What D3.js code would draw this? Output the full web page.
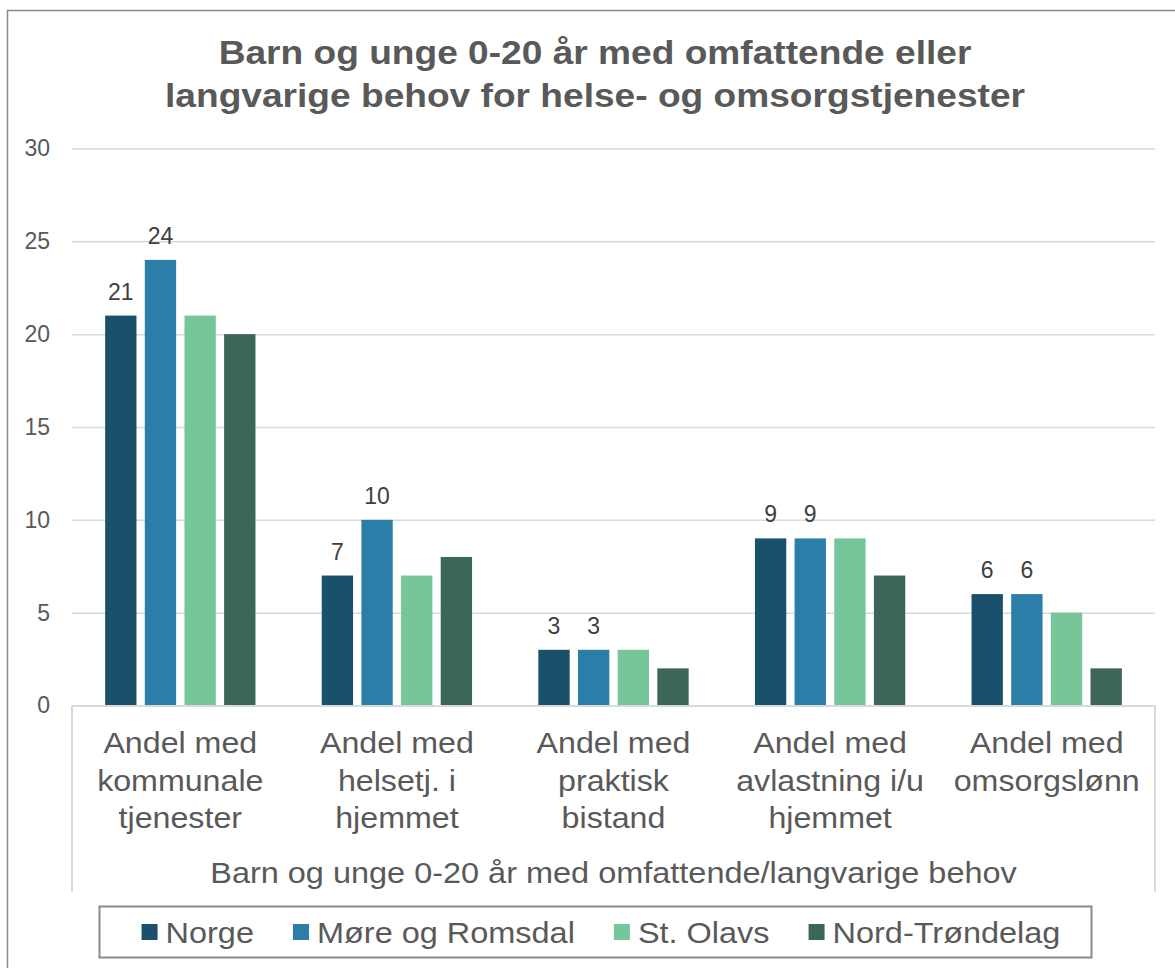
<!DOCTYPE html>
<html>
<head>
<meta charset="utf-8">
<script src="https://cdn.jsdelivr.net/npm/d3@7"></script>
<style>
  body { margin: 0; background: #fff; }
  svg { display: block; font-family: "Liberation Sans", Arial, sans-serif; }
</style>
</head>
<body>
<svg id="chart" width="1175" height="968"></svg>
<script>
// data
const categories = ["kommunale", "helsetj", "praktisk", "avlastning", "omsorgslonn"];
const categoryLines = [
  ["Andel med", "kommunale", "tjenester"],
  ["Andel med", "helsetj. i", "hjemmet"],
  ["Andel med", "praktisk", "bistand"],
  ["Andel med", "avlastning i/u", "hjemmet"],
  ["Andel med", "omsorgslønn"]
];
const seriesNames = ["Norge", "Møre og Romsdal", "St. Olavs", "Nord-Trøndelag"];
const norge = [21, 7, 3, 9, 6];
const moreRomsdal = [24, 10, 3, 9, 6];
const stOlavs = [21, 7, 3, 9, 5];
const nordTrondelag = [20, 8, 2, 7, 2];
const labelled = [true, true, false, false]; // only first two series carry data labels
const yTicks = [0, 5, 10, 15, 20, 25, 30];
const titleLines = ["Barn og unge 0-20 år med omfattende eller", "langvarige behov for helse- og omsorgstjenester"];
const axisTitle = "Barn og unge 0-20 år med omfattende/langvarige behov";

const colors = ["#1b506c", "#2b7ea7", "#76c69a", "#3c6657"];
const seriesValues = [norge, moreRomsdal, stOlavs, nordTrondelag];

// the source font renders a bit wider than Liberation Sans
const stretch = 1.11;

const svg = d3.select("#chart");

// outer frame
svg.append("rect")
  .attr("x", 7.5).attr("y", 10.5)
  .attr("width", 1200).attr("height", 1000)
  .attr("fill", "none").attr("stroke", "#8a8a8a").attr("stroke-width", 1.5);

// title
svg.append("text")
  .attr("x", 0).attr("y", 64)
  .attr("transform", "translate(595,0) scale(1.125,1)")
  .attr("text-anchor", "middle")
  .attr("fill", "#595959")
  .style("font-size", "33px").style("font-weight", "bold")
  .selectAll("tspan").data(titleLines).enter().append("tspan")
  .attr("x", 0).attr("dy", (d, i) => i === 0 ? 0 : 43)
  .text(d => d);

const plotLeft = 72, plotRight = 1155, plotTop = 148.5, plotBottom = 705.5;

const y = d3.scaleLinear().domain([0, 30]).range([plotBottom, plotTop]);
const x0 = d3.scaleBand().domain(categories).range([plotLeft, plotRight]).padding(0);
const x1 = d3.scaleBand().domain(seriesNames)
  .range([x0.bandwidth() * 0.153, x0.bandwidth() * 0.847])
  .paddingInner(0.21).paddingOuter(0);

// gridlines
const yAxis = svg.append("g")
  .attr("transform", "translate(" + plotLeft + ",0)")
  .call(d3.axisLeft(y).tickValues(yTicks).tickSize(-(plotRight - plotLeft)).tickPadding(22));
yAxis.select(".domain").remove();
yAxis.selectAll(".tick line").attr("stroke", "#d9d9d9").attr("stroke-width", 1.5);
yAxis.selectAll(".tick text")
  .attr("fill", "#595959")
  .style("font-size", "23px")
  .style("font-family", "'Liberation Sans', Arial, sans-serif");

// bars
const groups = svg.append("g").selectAll("g")
  .data(seriesNames).enter().append("g")
  .attr("fill", (d, i) => colors[i]);

groups.selectAll("rect")
  .data((s, si) => categories.map((c, ci) => ({ c: c, s: s, v: seriesValues[si][ci] })))
  .enter().append("rect")
  .attr("x", d => x0(d.c) + x1(d.s))
  .attr("y", d => y(d.v))
  .attr("width", x1.bandwidth())
  .attr("height", d => y(0) - y(d.v));

// value labels
seriesNames.forEach((s, si) => {
  if (!labelled[si]) return;
  svg.append("g").selectAll("text")
    .data(categories.map((c, ci) => ({ c: c, v: seriesValues[si][ci] })))
    .enter().append("text")
    .attr("x", d => x0(d.c) + x1(s) + x1.bandwidth() / 2)
    .attr("y", d => y(d.v) - 16)
    .attr("text-anchor", "middle")
    .attr("fill", "#404040")
    .style("font-size", "23px")
    .text(d => d.v);
});

// category axis
const xAxis = svg.append("g")
  .attr("transform", "translate(0," + plotBottom + ")")
  .call(d3.axisBottom(x0).tickSize(0).tickFormat(""));
xAxis.select(".domain").attr("stroke", "#d9d9d9").attr("stroke-width", 2);
xAxis.selectAll(".tick text").remove();
xAxis.selectAll(".tick").each(function (d, i) {
  const t = d3.select(this).append("text")
    .attr("y", 48)
    .attr("transform", "scale(" + stretch + ",1)")
    .attr("text-anchor", "middle")
    .attr("fill", "#595959")
    .style("font-size", "29px")
    .style("font-family", "'Liberation Sans', Arial, sans-serif");
  t.selectAll("tspan").data(categoryLines[i]).enter().append("tspan")
    .attr("x", 0).attr("dy", (l, j) => j === 0 ? 0 : 37.5)
    .text(l => l);
});

// box sides of the category axis
[plotLeft, plotRight].forEach(xx => {
  svg.append("line")
    .attr("x1", xx).attr("x2", xx)
    .attr("y1", plotBottom).attr("y2", 892)
    .attr("stroke", "#d9d9d9").attr("stroke-width", 2);
});

svg.append("text")
  .attr("x", 0).attr("y", 883)
  .attr("transform", "translate(" + (plotLeft + plotRight) / 2 + ",0) scale(1.12,1)")
  .attr("text-anchor", "middle")
  .attr("fill", "#595959")
  .style("font-size", "29px")
  .text(axisTitle);

// legend
svg.append("rect")
  .attr("x", 99.5).attr("y", 906.5)
  .attr("width", 992).attr("height", 51)
  .attr("fill", "#fff").attr("stroke", "#8a8a8a").attr("stroke-width", 2);

const legend = svg.append("g");
const itemGap = 39;
let lx = 0;
seriesNames.forEach((s, i) => {
  const item = legend.append("g").attr("transform", "translate(" + lx + ",0)");
  item.append("rect")
    .attr("x", 0).attr("y", 924)
    .attr("width", 16).attr("height", 16)
    .attr("fill", colors[i]);
  const t = item.append("text")
    .attr("x", 0).attr("y", 943)
    .attr("transform", "translate(24,0) scale(1.12,1)")
    .attr("fill", "#595959")
    .style("font-size", "29px")
    .text(s);
  lx += 24 + t.node().getComputedTextLength() * 1.12 + itemGap;
});
const legendWidth = lx - itemGap;
legend.attr("transform", "translate(" + (601 - legendWidth / 2) + ",0)");
</script>
</body>
</html>
